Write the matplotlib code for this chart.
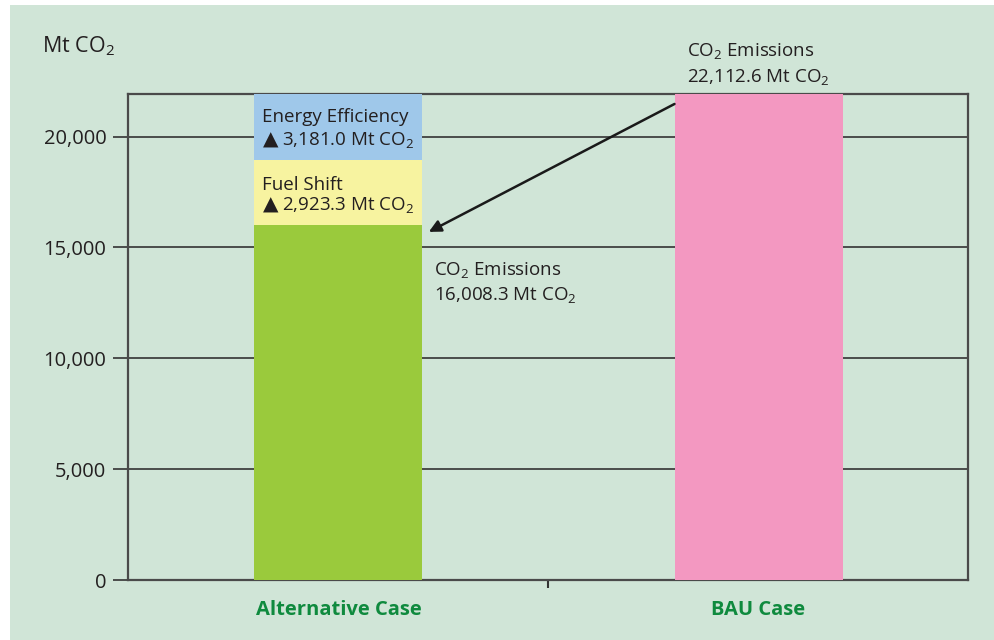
import matplotlib
matplotlib.use("Agg")
import matplotlib.pyplot as plt
from matplotlib.patches import Rectangle
from matplotlib.transforms import blended_transform_factory

plt.rcParams['font.family'] = ['Open Sans', 'DejaVu Sans']

categories = ["Alternative Case", "BAU Case"]
alt_emissions = 16008.3
fuel_shift = 2923.3
energy_eff = 3181.0
bau_emissions = 22112.6
yticks = [0, 5000, 10000, 15000, 20000]
ytick_labels = ["0", "5,000", "10,000", "15,000", "20,000"]

BG = "#d0e5d7"
fig = plt.figure(figsize=(9.95, 6.4), dpi=100, facecolor="white")
fig.patches.append(Rectangle((10 / 995, 0), 1 - 10 / 995, 1 - 5 / 640,
                             transform=fig.transFigure, facecolor=BG,
                             edgecolor="none", zorder=-10))

ax = fig.add_axes([128.5 / 995, 1 - 580 / 640, 840 / 995, 486 / 640])
ax.set_facecolor(BG)
ax.set_xlim(-0.5, 1.5)
ax.set_ylim(0, 21920)

x = [0, 1]
w = 0.4
ax.bar(x[0], alt_emissions, width=w, color="#9aca3c", zorder=3)
ax.bar(x[0], fuel_shift, bottom=alt_emissions, width=w, color="#f7f3a0", zorder=3)
ax.bar(x[0], energy_eff, bottom=alt_emissions + fuel_shift, width=w, color="#9fc8ea", zorder=3)
ax.bar(x[1], bau_emissions, width=w, color="#f398c1", zorder=3)

for s in ax.spines.values():
    s.set_color("#4a4a4a")
    s.set_linewidth(1.6)

ax.set_yticks(yticks)
ax.set_yticklabels(ytick_labels, fontsize=14.5, color="#231f20")
ax.tick_params(axis="y", length=10.5, width=1.2, color="#333333", pad=5.5)
ax.grid(axis="y", color="#333333", linewidth=1.2, zorder=1)
ax.set_axisbelow(True)

ax.set_xticks([0.5])
ax.set_xticklabels([""])
ax.tick_params(axis="x", length=6, width=1.5, color="#333333")

trans = blended_transform_factory(ax.transData, fig.transFigure)
for xi, c in zip(x, categories):
    ax.text(xi, 1 - 610 / 640, c, transform=trans, ha="center", va="center",
            fontsize=14.5, fontweight="bold", color="#0f8a3e")

fig.text(42 / 995, 1 - 52 / 640, r"Mt CO$_\mathregular{2}$", fontsize=15.5,
         color="#231f20", va="baseline", ha="left")

tc = "#231f20"
fs = 13.5
sub = r"CO$_\mathregular{2}$"
tri_kw = dict(fontsize=14.5, color=tc, va="baseline", zorder=5, family="DejaVu Sans")
ax.text(-0.1790, 19580, "▲", **tri_kw)
ax.text(-0.1817, 20650, "Energy Efficiency", fontsize=fs, color=tc, va="baseline", zorder=5)
ax.text(-0.1352, 19580, "3,181.0 Mt " + sub, fontsize=fs, color=tc, va="baseline", zorder=5)
ax.text(-0.1817, 17595, "Fuel Shift", fontsize=fs, color=tc, va="baseline", zorder=5)
ax.text(-0.1790, 16660, "▲", **tri_kw)
ax.text(-0.1352, 16660, "2,923.3 Mt " + sub, fontsize=fs, color=tc, va="baseline", zorder=5)
ax.text(0.2267, 13728, sub + " Emissions", fontsize=fs, color=tc, va="baseline", zorder=5)
ax.text(0.2267, 12590, "16,008.3 Mt " + sub, fontsize=fs, color=tc, va="baseline", zorder=5)
ax.text(0.8307, 23580, sub + " Emissions", fontsize=fs, color=tc, va="baseline", zorder=5, clip_on=False)
ax.text(0.8307, 22410, "22,112.6 Mt " + sub, fontsize=fs, color=tc, va="baseline", zorder=5, clip_on=False)

ax.annotate("", xy=(0.215, 15700), xytext=(0.8, 21470),
            arrowprops=dict(arrowstyle="-|>", color="#1a1a1a", lw=1.8,
                            mutation_scale=18, shrinkA=0, shrinkB=0),
            zorder=6)

fig.savefig("out.png", dpi=100, facecolor="white")
